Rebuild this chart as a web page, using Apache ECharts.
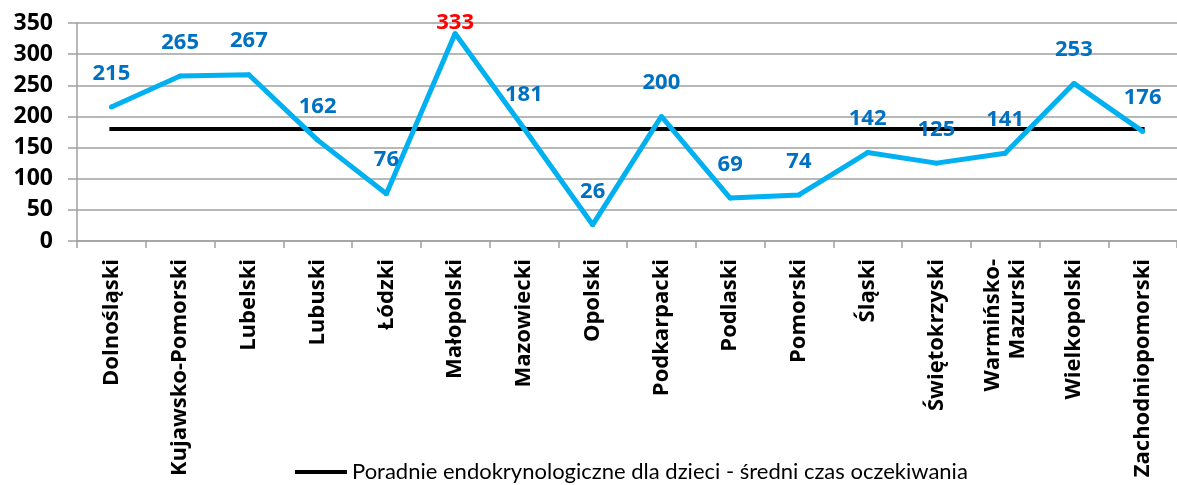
<!DOCTYPE html>
<html>
<head>
<meta charset="utf-8">
<script src="https://cdn.jsdelivr.net/npm/echarts@6/dist/echarts.min.js"></script>
<style>
html,body{margin:0;padding:0;background:#fff;}
#chart{width:1177px;height:485px;}
</style>
</head>
<body>
<div id="chart"></div>
<script>
var categories = ['Dolnośląski','Kujawsko-Pomorski','Lubelski','Lubuski','Łódzki','Małopolski','Mazowiecki','Opolski','Podkarpacki','Podlaski','Pomorski','Śląski','Świętokrzyski','Warmińsko-\nMazurski','Wielkopolski','Zachodniopomorski'];
var waitValues = [215,265,267,162,76,333,181,26,200,69,74,142,125,141,253,176];
var averageValues = [180,180,180,180,180,180,180,180,180,180,180,180,180,180,180,180];
var yTicks = [0,50,100,150,200,250,300,350];
var seriesName = 'Poradnie endokrynologiczne dla dzieci - średni czas oczekiwania';

var FONT = 'Open Sans';
var LEGEND_FONT = 'Lato';
var maxVal = Math.max.apply(null, waitValues);
var lineData = waitValues.map(function(v){
  if (v === maxVal) {
    return {value: v, label: {color: '#FF0000', distance: -3}};
  }
  return v;
});

var chart = echarts.init(document.getElementById('chart'), null, {renderer: 'canvas'});
chart.setOption({
  animation: false,
  backgroundColor: '#ffffff',
  grid: {left: 77, right: -11, top: 23, bottom: 244, containLabel: false},
  legend: {
    data: [{name: seriesName, icon: 'rect'}],
    left: 290, top: 456,
    itemWidth: 52, itemHeight: 4, itemGap: 6,
    textStyle: {fontFamily: LEGEND_FONT, fontSize: 22, color: '#000'}
  },
  xAxis: {
    type: 'category',
    data: categories,
    boundaryGap: true,
    axisLine: {lineStyle: {color: '#A0A0A0', width: 1.5}},
    axisTick: {show: true, length: 7, alignWithLabel: false, lineStyle: {color: '#A0A0A0', width: 1.5}},
    axisLabel: {
      interval: 0, rotate: 90, margin: 18,
      fontFamily: FONT, fontWeight: 'bold', fontSize: 22, color: '#000', lineHeight: 25
    },
    splitLine: {show: false}
  },
  yAxis: {
    type: 'value',
    min: yTicks[0], max: yTicks[yTicks.length-1], interval: 50,
    axisLine: {show: true, lineStyle: {color: '#A0A0A0', width: 1.5}},
    axisTick: {show: true, length: 9, lineStyle: {color: '#A0A0A0', width: 1.5}},
    axisLabel: {margin: 24, fontFamily: FONT, fontWeight: 'bold', fontSize: 23, color: '#000'},
    splitLine: {show: true, lineStyle: {color: '#A0A0A0', width: 1.5}}
  },
  series: [
    {
      name: 'Czas oczekiwania',
      type: 'line',
      data: lineData,
      symbol: 'circle', symbolSize: 5,
      itemStyle: {color: '#00B0F0'},
      lineStyle: {color: '#00B0F0', width: 5},
      label: {
        show: true, position: 'top', distance: 20,
        fontFamily: FONT, fontWeight: 'bold', fontSize: 22, color: '#0070C0'
      },
      z: 3
    },
    {
      name: seriesName,
      type: 'line',
      data: averageValues,
      symbol: 'none',
      itemStyle: {color: '#000'},
      lineStyle: {color: '#000', width: 4, cap: 'square'},
      z: 2
    }
  ]
});
</script>
</body>
</html>
